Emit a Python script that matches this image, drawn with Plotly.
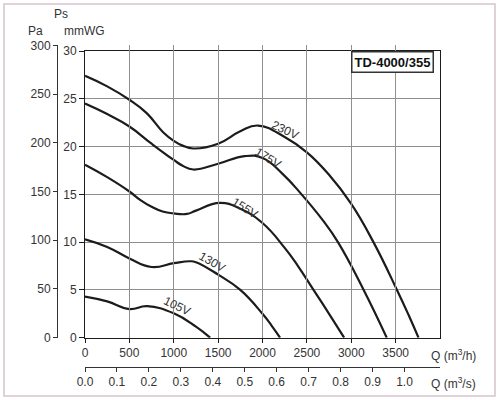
import plotly.graph_objects as go

# ── Fan curve data (Q in m3/h, Ps in mmWG) ────────────────────────────────────
Q_230 = [0, 250, 500, 695, 880, 1000, 1100, 1220, 1500, 1750, 1950, 2250, 2500, 2745, 3000, 3250, 3515, 3645, 3758]
P_230 = [27.4, 26.3, 24.9, 23.5, 21.5, 20.6, 20.1, 19.8, 20.3, 21.6, 22.2, 21.0, 19.4, 17.1, 14.0, 10.0, 5.0, 2.4, 0]

Q_175 = [0, 250, 500, 750, 1000, 1100, 1220, 1500, 1800, 2000, 2220, 2440, 2670, 2850, 3140, 3400]
P_175 = [24.5, 23.4, 22.1, 20.3, 18.6, 18.0, 17.6, 18.2, 19.0, 18.8, 17.2, 15.0, 12.4, 10.0, 5.0, 0]

Q_155 = [0, 250, 500, 625, 750, 875, 1000, 1150, 1250, 1520, 1750, 2000, 2250, 2400, 2575, 2750, 2920]
P_155 = [18.1, 16.8, 15.3, 14.4, 13.7, 13.2, 13.0, 12.95, 13.3, 14.1, 13.5, 12.0, 9.4, 7.5, 5.0, 2.5, 0]

Q_130 = [0, 250, 500, 750, 1000, 1185, 1250, 1500, 1750, 2000, 2100, 2198]
P_130 = [10.3, 9.5, 8.3, 7.4, 7.8, 8.0, 7.9, 6.6, 5.0, 2.5, 1.3, 0]

Q_105 = [0, 250, 500, 700, 1000, 1250, 1410]
P_105 = [4.3, 3.8, 3.0, 3.3, 2.55, 1.15, 0]

CURVES = [
    ("230V", Q_230, P_230),
    ("175V", Q_175, P_175),
    ("155V", Q_155, P_155),
    ("130V", Q_130, P_130),
    ("105V", Q_105, P_105),
]

# label position (Q, Ps) and tilt for each speed label
LABEL_Q = [2255, 2064, 1804, 1432, 1037]
LABEL_P = [21.7, 18.8, 13.6, 7.9, 3.3]
LABEL_ANGLE = [25, 32, 32, 30, 26]

Q_TICKS = [0, 500, 1000, 1500, 2000, 2500, 3000, 3500]
QS_TICKS = [0.0, 0.1, 0.2, 0.3, 0.4, 0.5, 0.6, 0.7, 0.8, 0.9, 1.0]
MMWG_TICKS = [0, 5, 10, 15, 20, 25, 30]
PA_TICKS = [0, 50, 100, 150, 200, 250, 300]

Q_MAX = 4000
MODEL = "TD-4000/355"

# ── Styling ────────────────────────────────────────────────────────────────────
W, H = 500, 400
INK = "#1c1c1c"
TXT = "#333333"
GRID = "#8f8f8f"
FRAME = "#d6c3cc"
FONT = "Liberation Sans, Arial, sans-serif"


def fx(px):
    return px / W


def fy(py):
    return 1 - py / H


def paper_text(x, y, text, size=12, **kw):
    return dict(x=fx(x), y=fy(y), xref="paper", yref="paper", text=text,
                showarrow=False, xanchor="center", yanchor="middle",
                font=dict(size=size, color=kw.pop("color", TXT)), **kw)


fig = go.Figure()

for name, q, p in CURVES:
    fig.add_trace(go.Scatter(
        x=q, y=p, mode="lines", name=name,
        line=dict(color=INK, width=2.2, shape="spline", smoothing=1.3),
        hoverinfo="skip",
    ))

# invisible helpers so the extra axes get drawn
fig.add_trace(go.Scatter(x=[0, Q_MAX / 3600], y=[0, 0], xaxis="x2", yaxis="y",
                         mode="lines", line=dict(width=0), hoverinfo="skip"))
fig.add_trace(go.Scatter(x=[0, 0], y=[0, 300], xaxis="x", yaxis="y2",
                         mode="lines", line=dict(width=0), hoverinfo="skip"))

annotations = []
for (name, _, _), lq, lp, ang in zip(CURVES, LABEL_Q, LABEL_P, LABEL_ANGLE):
    annotations.append(dict(
        x=lq, y=lp, xref="x", yref="y", text=name, showarrow=False,
        xanchor="center", yanchor="middle",
        textangle=ang, font=dict(size=12, color=TXT),
    ))

annotations += [
    paper_text(60.5, 14, "Ps"),
    paper_text(35, 31, "Pa"),
    paper_text(84, 31, "mmWG"),
    paper_text(453, 355, "Q (m<sup>3</sup>/h)"),
    paper_text(453, 383, "Q (m<sup>3</sup>/s)"),
    paper_text(392, 62, "<b>" + MODEL + "</b>", size=13, color="#111111",
               bgcolor="white", bordercolor="#333333", borderwidth=1.5, borderpad=2),
]

axis_font = dict(size=12, color=TXT)

fig.update_layout(
    width=W, height=H,
    margin=dict(l=0, r=0, t=0, b=0, autoexpand=False),
    paper_bgcolor="white", plot_bgcolor="rgba(0,0,0,0)",
    font=dict(family=FONT, color=TXT),
    showlegend=False,
    xaxis=dict(
        domain=[fx(85), fx(440)], range=[0, Q_MAX], anchor="y",
        tickvals=Q_TICKS, tickfont=axis_font, automargin=False,
        showgrid=True, gridcolor=GRID, gridwidth=1, zeroline=False,
        showline=True, linecolor=INK, linewidth=1, mirror=True,
        ticks="outside", ticklen=4, tickcolor=INK,
    ),
    xaxis2=dict(
        domain=[fx(85), fx(440)], range=[0, Q_MAX / 3600], anchor="free",
        overlaying="x", side="bottom", position=fy(366.7), automargin=False,
        tickvals=QS_TICKS, tickformat=".1f", tickfont=axis_font,
        showgrid=False, zeroline=False,
        showline=True, linecolor="#333333", linewidth=1,
        ticks="outside", ticklen=4, tickcolor="#333333",
    ),
    yaxis=dict(
        domain=[fy(337.7), fy(51)], range=[0, 30], anchor="x",
        tickvals=MMWG_TICKS, tickfont=axis_font, automargin=False,
        showgrid=True, gridcolor=GRID, gridwidth=1, zeroline=False,
        showline=True, linecolor=INK, linewidth=1, mirror=True,
        ticks="outside", ticklen=5, tickcolor=INK,
    ),
    yaxis2=dict(
        domain=[fy(337.7), fy(337.7 - 30.58 * 9.56)], range=[0, 300],
        anchor="free", position=fx(57), side="left", automargin=False,
        tickvals=PA_TICKS, tickfont=axis_font,
        showgrid=False, zeroline=False,
        showline=True, linecolor="#333333", linewidth=1,
        ticks="outside", ticklen=4, tickcolor="#333333",
    ),
    annotations=annotations,
    shapes=[dict(
        type="rect", xref="paper", yref="paper",
        x0=fx(4), x1=fx(495), y0=fy(396), y1=fy(4),
        line=dict(color=FRAME, width=1.5), layer="below",
    )],
)

# the page body has a default 8px margin; drop it so the figure sits at 0,0
fig.write_html("out.html", config={"displayModeBar": False},
               post_script="document.body.style.margin='0px';")
